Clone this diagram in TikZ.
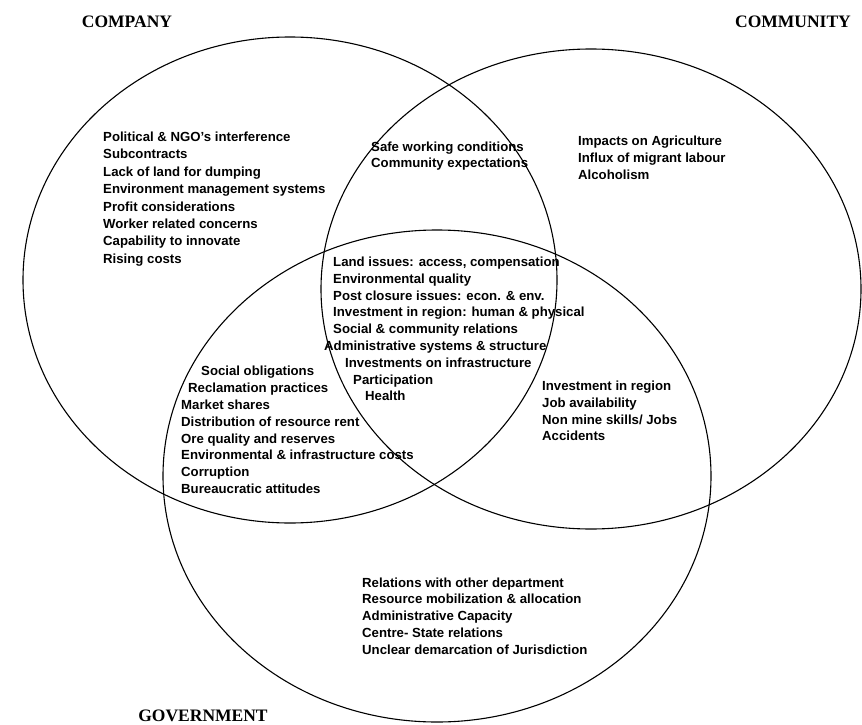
\documentclass[tikz,border=0pt]{standalone}
\usepackage{fontspec}
\setmainfont{Liberation Sans}
\newfontfamily\labelfont{Liberation Serif}
\begin{document}
\begin{tikzpicture}[x=1pt,y=-1pt,
  setline/.style={line width=1.1pt,black},
  itemlist/.style={anchor=west,inner sep=0pt,align=left,
    font=\fontsize{13.2}{16.8}\selectfont\bfseries},
  setlabel/.style={inner sep=0pt,font=\labelfont\fontsize{17.5}{20}\selectfont\bfseries}]
\useasboundingbox (0,0) rectangle (862,725);

% the three sets
\draw[setline] (290,280) ellipse [x radius=267pt, y radius=243pt];
\draw[setline] (591,289) ellipse [x radius=270pt, y radius=240pt];
\draw[setline] (437,476) ellipse [x radius=274pt, y radius=246pt];

% set names
\node[setlabel] (lcompany) at (127,22) {COMPANY};
\node[setlabel] (lcommunity) at (793,22) {COMMUNITY};
\node[setlabel] (lgovernment) at (203,716) {GOVERNMENT};

% company only
\node[itemlist,font=\fontsize{13.2}{17.4}\selectfont\bfseries] (company) at (103,199) {%
Political \& NGO's interference\\
Subcontracts\\
Lack of land for dumping\\
Environment management systems\\
Profit considerations\\
Worker related concerns\\
Capability to innovate\\
Rising costs};

% company and community
\node[itemlist] (compcomm) at (371,156) {%
Safe working conditions\\
Community expectations};

% community only
\node[itemlist] (community) at (578,158) {%
Impacts on Agriculture\\
Influx of migrant labour\\
Alcoholism};

% all three
\node[itemlist] (allthree) at (324,329) {%
\hspace*{9pt}Land issues: access, compensation\\
\hspace*{9pt}Environmental quality\\
\hspace*{9pt}Post closure issues: econ. \& env.\\
\hspace*{9pt}Investment in region: human \& physical\\
\hspace*{9pt}Social \& community relations\\
Administrative systems \& structure\\
\hspace*{21pt}Investments on infrastructure\\
\hspace*{29pt}Participation\\
\hspace*{41pt}Health};

% company and government
\node[itemlist] (compgov) at (181,430) {%
\hspace*{20pt}Social obligations\\
\hspace*{7pt}Reclamation practices\\
Market shares\\
Distribution of resource rent\\
Ore quality and reserves\\
Environmental \& infrastructure costs\\
Corruption\\
Bureaucratic attitudes};

% community and government
\node[itemlist] (commgov) at (542,411) {%
Investment in region\\
Job availability\\
Non mine skills/ Jobs\\
Accidents};

% government only
\node[itemlist] (government) at (362,616) {%
Relations with other department\\
Resource mobilization \& allocation\\
Administrative Capacity\\
Centre- State relations\\
Unclear demarcation of Jurisdiction};
\end{tikzpicture}
\end{document}
